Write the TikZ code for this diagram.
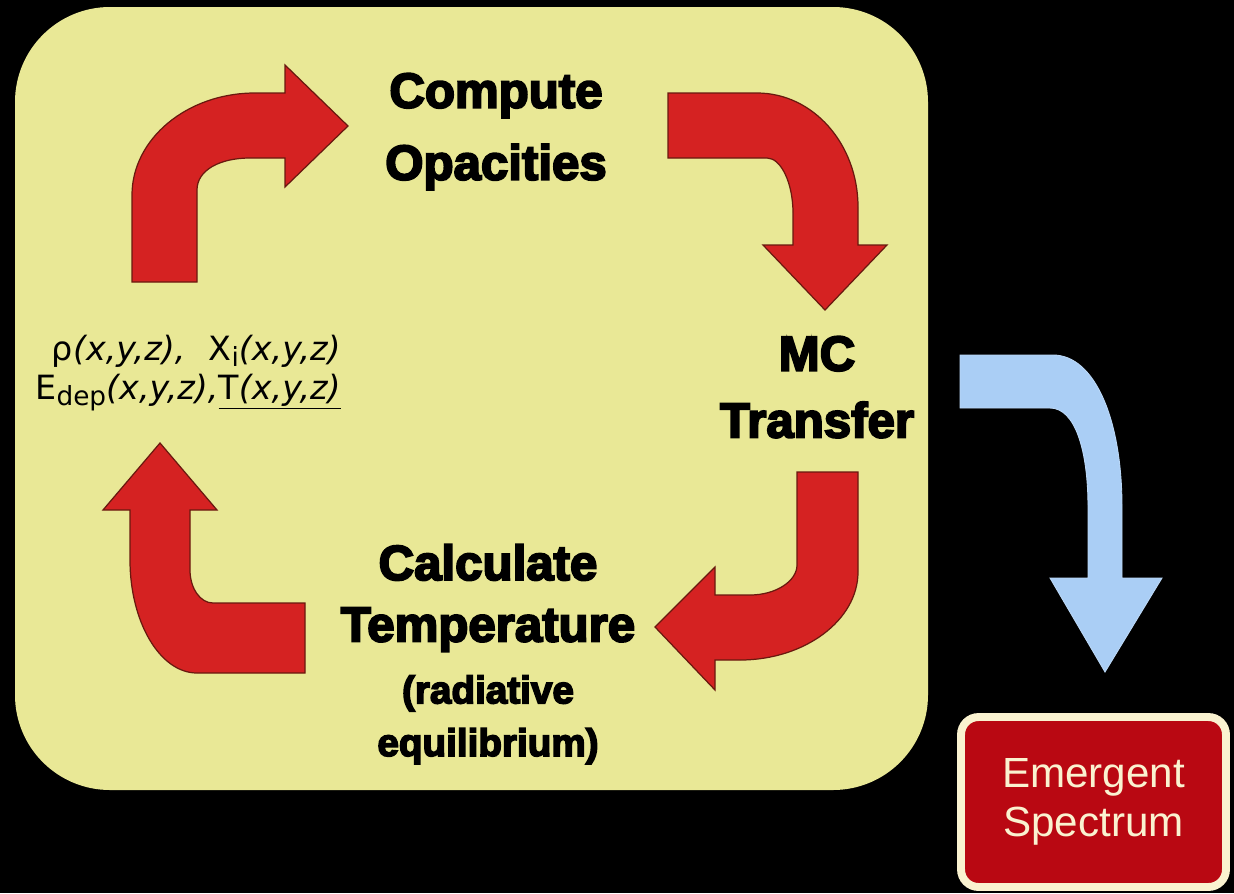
\documentclass[tikz,border=0pt]{standalone}
\usepackage{fontspec}
\setmainfont{Liberation Sans}
\newfontfamily\heavyfont{Liberation Sans}[BoldFeatures={FakeBold=4}]
\newfontfamily\varfont{DejaVu Sans}

\definecolor{panel}{RGB}{233,232,150}
\definecolor{arrowred}{RGB}{213,34,34}
\definecolor{arrowedge}{RGB}{105,25,15}
\definecolor{flowblue}{RGB}{170,206,245}
\definecolor{boxred}{RGB}{185,8,18}
\definecolor{cream}{RGB}{250,242,208}

% lowered subscript in the grid quantities
\newcommand{\lowsub}[1]{\raisebox{-0.32ex}{\fontsize{15}{15}\selectfont #1}}

\tikzset{
  loopstep/.style={inner sep=0pt, align=center, text=black,
    font=\heavyfont\bfseries},
  bentarrow/.style={fill=arrowred, draw=arrowedge, line width=0.7pt, line join=miter},
  outarrow/.style={fill=flowblue, draw=flowblue!80!white, line width=0.5pt},
  resultbox/.style={fill=boxred, draw=cream, line width=4.5pt, rounded corners=0.35cm,
    minimum width=5.3cm, minimum height=3.4cm, align=center, text=cream,
    font=\fontsize{24}{28}\selectfont},
}

\begin{document}
\begin{tikzpicture}[x=0.02cm, y=-0.02cm]
  % page and background
  \useasboundingbox (0,0) rectangle (1234,893);
  \fill[black] (0,0) rectangle (1234,893);

  % the iteration panel
  \fill[panel, rounded corners=1.9cm] (15,7) rectangle (928,790);

  % loop steps
  \node[loopstep, anchor=north, font=\heavyfont\bfseries\fontsize{28}{41}\selectfont]
    (opac) at (496,73) {Compute\\Opacities};
  \node[loopstep, anchor=north, font=\heavyfont\bfseries\fontsize{28}{38}\selectfont]
    (mc) at (817,336) {MC\\Transfer};
  \node[loopstep, anchor=north, font=\heavyfont\bfseries\fontsize{28}{35}\selectfont]
    (temp) at (488,544) {Calculate\\Temperature};
  \node[loopstep, anchor=north, font=\heavyfont\bfseries\fontsize{22}{30}\selectfont]
    (radeq) at (488,675) {(radiative\\equilibrium)};

  % grid quantities
  \node[inner sep=0pt, anchor=north east, align=right, text=black,
        font=\varfont\fontsize{19}{22}\selectfont] (vars) at (341,335)
    {ρ\textit{(x,y,z),}\hspace{0.7em}X\lowsub{i}\textit{(x,y,z)}\\
     E\lowsub{dep}\textit{(x,y,z),}\underline{T\textit{(x,y,z)}}};

  % up, then right: towards the opacities
  \draw[bentarrow] (132,282) -- (132,195) .. controls (132,139) and (187,93) .. (255,93)
    -- (285,93) -- (285,65) -- (348,126) -- (285,187) -- (285,158) -- (250,158)
    .. controls (220,158) and (197,170) .. (197,190) -- (197,282) -- cycle;

  % right, then down: towards the transfer
  \draw[bentarrow] (668,93) -- (757,93) .. controls (813,93) and (858,144) .. (858,207)
    -- (858,245) -- (887,245) -- (825,310) -- (763,245) -- (793,245) -- (793,213)
    .. controls (793,183) and (781,158) .. (767,158) -- (668,158) -- cycle;

  % down, then left: towards the temperature
  \draw[bentarrow] (797,472) -- (858,472) -- (858,572) .. controls (858,620) and (805,660) .. (740,660)
    -- (715,660) -- (715,690) -- (655,627) -- (715,567) -- (715,595) -- (750,595)
    .. controls (776,595) and (797,581) .. (797,565) -- cycle;

  % left, then up: back to the grid quantities
  \draw[bentarrow] (305,603) -- (305,673) -- (197,673) .. controls (160,673) and (130,622) .. (130,560)
    -- (130,510) -- (103,510) -- (160,443) -- (217,510) -- (190,510) -- (190,570)
    .. controls (190,588) and (200,603) .. (213,603) -- cycle;

  % result
  \node[resultbox] (spec) at (1093.5,802) {Emergent\\Spectrum};

  % out of the loop, down to the result
  \draw[outarrow] (960,355) -- (1053,355) .. controls (1095,355) and (1122,420) .. (1122,507)
    -- (1122,578) -- (1162,578) -- (1105,672) -- (1050,578) -- (1088,578) -- (1088,507)
    .. controls (1088,450) and (1075,408) .. (1050,408) -- (960,408) -- cycle;
\end{tikzpicture}
\end{document}
